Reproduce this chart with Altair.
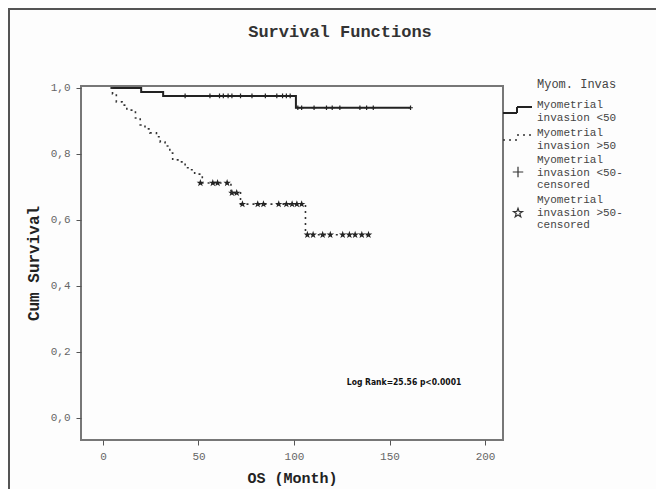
import altair as alt
import pandas as pd

# ---- data ----
grp1 = "Myometrial invasion <50"
grp2 = "Myometrial invasion >50"

# step curve, group <50
t1 = [4, 20, 31.5, 101, 161]
s1 = [1.0, 0.988, 0.976, 0.94, 0.94]
# censored cases, group <50
c1_t = [43, 56, 61, 63, 65.5, 67.5, 72, 78, 85, 91, 94, 96, 98,
        102, 104, 110.5, 117, 120, 124, 134.5, 138, 141.5, 161]
c1_s = [0.976] * 13 + [0.94] * 10

# step curve, group >50
t2 = [4, 5, 7, 10, 12.5, 17, 19.5, 22, 24.5, 28, 30, 32.5, 35, 36.5, 40,
      43, 45.5, 48, 52, 67, 72, 106, 140]
s2 = [1.0, 0.982, 0.958, 0.948, 0.933, 0.909, 0.888, 0.876, 0.864, 0.852,
      0.836, 0.824, 0.803, 0.782, 0.776, 0.758, 0.752, 0.739, 0.712, 0.682,
      0.648, 0.555, 0.555]
# censored cases, group >50
c2_t = [51, 57.5, 60, 65, 67.5, 70, 73, 81, 84, 92, 96, 99, 101.5, 104,
        107, 110, 115, 119, 125.5, 129, 132, 135.5, 139]
c2_s = [0.712, 0.712, 0.712, 0.712, 0.682, 0.682, 0.648, 0.648, 0.648,
        0.648, 0.648, 0.648, 0.648, 0.648, 0.555, 0.555, 0.555, 0.555,
        0.555, 0.555, 0.555, 0.555, 0.555]

x_ticks = [0, 50, 100, 150, 200]
y_ticks = [0.0, 0.2, 0.4, 0.6, 0.8, 1.0]

legend_title = "Myom. Invas"
legend_labels = [
    "Myometrial\ninvasion <50",
    "Myometrial\ninvasion >50",
    "Myometrial\ninvasion <50-\ncensored",
    "Myometrial\ninvasion >50-\ncensored",
]
annot = "Log Rank=25.56 p<0.0001"

# ---- tables ----
df1 = pd.DataFrame({"t": t1, "s": s1, "g": grp1})
df2 = pd.DataFrame({"t": t2, "s": s2, "g": grp2})
dc1 = pd.DataFrame({"t": c1_t, "s": c1_s})
dc2 = pd.DataFrame({"t": c2_t, "s": c2_s})

MONO = "Liberation Mono"
PLUS = "M-1,0L1,0M0,-1L0,1"
STAR = ("M0,-1L0.235,-0.324L0.951,-0.309L0.380,0.124L0.588,0.809L0,0.4"
        "L-0.588,0.809L-0.380,0.124L-0.951,-0.309L-0.235,-0.324Z")

xs = alt.Scale(domain=[-11.5, 209.4], nice=False, zero=False)
ys = alt.Scale(domain=[-0.067, 1.006], nice=False, zero=False)

xax = alt.Axis(values=x_ticks, title="OS  (Month)", grid=False, domain=False,
               tickSize=5, tickColor="#555", labelColor="#666",
               labelFont=MONO, labelFontSize=11, labelPadding=5,
               titleFont=MONO, titleFontSize=15, titleFontWeight="bold",
               titleColor="#222", titlePadding=9)
yax = alt.Axis(values=y_ticks, title="Cum Survival", grid=False, domain=False,
               tickSize=5, tickColor="#555", labelColor="#666",
               labelFont=MONO, labelFontSize=11, labelPadding=6,
               labelExpr="replace(format(datum.value, '.1f'), '.', ',')",
               titleFont=MONO, titleFontSize=16, titleFontWeight="bold",
               titleColor="#222", titlePadding=9)

base_x = alt.X("t:Q", scale=xs, axis=xax)
base_y = alt.Y("s:Q", scale=ys, axis=yax)

line1 = alt.Chart(df1).mark_line(interpolate="step-after", color="#222",
                                  strokeWidth=2).encode(x=base_x, y=base_y)
line2 = alt.Chart(df2).mark_line(interpolate="step-after", color="#333",
                                  strokeWidth=1.6, strokeDash=[2, 4]).encode(
    x=alt.X("t:Q", scale=xs), y=alt.Y("s:Q", scale=ys))
cens1 = alt.Chart(dc1).mark_point(shape=PLUS, size=22, filled=False,
                                   stroke="#222", strokeWidth=1.2, opacity=1).encode(
    x=alt.X("t:Q", scale=xs), y=alt.Y("s:Q", scale=ys))
cens2 = alt.Chart(dc2).mark_point(shape=STAR, size=18, filled=False,
                                   stroke="#222", strokeWidth=1.2, opacity=1).encode(
    x=alt.X("t:Q", scale=xs), y=alt.Y("s:Q", scale=ys))

note = alt.Chart(pd.DataFrame({"a": [annot]})).mark_text(
    font="Liberation Sans Narrow, DejaVu Sans Condensed, sans-serif",
    fontWeight="bold", fontSize=8.5, color="#111"
).encode(x=alt.datum(157.6), y=alt.datum(0.109), text="a:N")

one = pd.DataFrame({"k": [0]})

title = alt.Chart(one).mark_text(text="Survival Functions", font=MONO,
                                 fontSize=17, fontWeight="bold", color="#333",
                                 baseline="middle").encode(
    x=alt.value(259), y=alt.value(-54))

leg_title = alt.Chart(one).mark_text(text=legend_title, font=MONO, fontSize=12,
                                     color="#444", align="left",
                                     baseline="middle").encode(
    x=alt.value(456), y=alt.value(-2))

leg_y = [13, 41, 68, 108]
leg_text = [
    alt.Chart(one).mark_text(text=legend_labels[i].split("\n"), font=MONO,
                             fontSize=11, color="#444", align="left",
                             baseline="top", lineHeight=12.5).encode(
        x=alt.value(456), y=alt.value(leg_y[i]))
    for i in range(4)
]

def seg(x1, x2, y1, y2, width=2, dash=None, color="#222"):
    kw = dict(color=color, strokeWidth=width)
    if dash:
        kw["strokeDash"] = dash
    return alt.Chart(one).mark_rule(**kw).encode(
        x=alt.value(x1), x2=alt.value(x2), y=alt.value(y1), y2=alt.value(y2))

leg_sym = [
    seg(422, 436, 27, 27), seg(436, 436, 21, 27), seg(436, 451, 21, 21),
    seg(422, 436, 54, 54, 1.6, [2, 4], "#333"),
    seg(436, 451, 49, 49, 1.6, [2, 4], "#333"),
    alt.Chart(one).mark_point(shape=PLUS, size=110, filled=False, stroke="#333",
                              strokeWidth=1.2, opacity=1).encode(
        x=alt.value(437), y=alt.value(86)),
    alt.Chart(one).mark_point(shape=STAR, size=90, filled=False, stroke="#333",
                              strokeWidth=1.2, opacity=1).encode(
        x=alt.value(437), y=alt.value(127)),
]

frame = [seg(-72, -72, -78, 420, 2, None, "#555"),
         seg(-73, 600, -77, -77, 2, None, "#555")]

chart = alt.layer(line1, line2, cens1, cens2, note, title, leg_title,
                  *leg_text, *leg_sym, *frame).properties(
    width=422, height=354,
    padding={"left": 73, "top": 78, "right": 153, "bottom": 49},
    autosize=alt.AutoSizeParams(type="none"),
    background="#fdfdfd",
).configure_view(stroke="#777", strokeWidth=2)

chart.save("out.html", embed_options={"renderer": "svg", "actions": False})
